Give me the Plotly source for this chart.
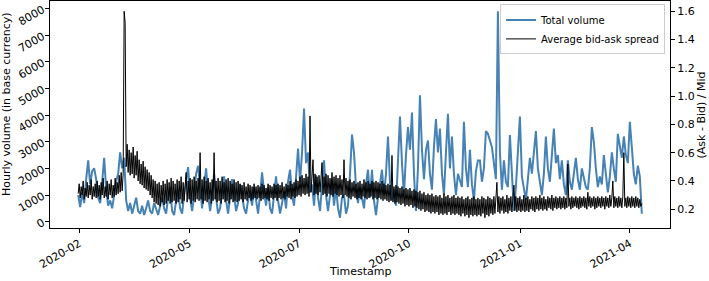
import pandas as pd
import plotly.graph_objects as go

# ---- data ----
start_date = "2020-02-03"
volume_freq = "38h"
spread_freq = "19h"

total_volume = [
    1000, 550, 1100, 700, 1600, 2300, 1400, 1900, 2000, 1600,
    900, 700, 1500, 2400, 1200, 600, 800, 500, 1000, 1500,
    1800, 2600, 2000, 2400, 800, 400, 700, 300, 600, 900,
    400, 300, 600, 250, 500, 800, 400, 300, 700, 500,
    250, 600, 900, 500, 300, 900, 1300, 400, 250, 800,
    1200, 500, 300, 1000, 1600, 2050, 900, 400, 1000, 1800,
    2100, 1200, 500, 1300, 2000, 1000, 400, 900, 1800, 900,
    300, 500, 1100, 1700, 800, 300, 900, 1600, 1000, 400,
    700, 1400, 1000, 500, 300, 800, 1100, 600, 1300, 700,
    300, 1000, 1850, 1100, 600, 1300, 500, 300, 900, 1700,
    800, 300, 700, 1100, 500, 1500, 1950, 1000, 600, 1800,
    2750, 1500, 2600, 4250, 2200, 2600, 1100, 1400, 600, 1750,
    900, 400, 1300, 2300, 1000, 400, 1000, 1600, 600, 1300,
    500, 150, 900, 1000, 300, 600, 1800, 3270, 2600, 1300,
    700, 1300, 900, 500, 1400, 1950, 900, 1950, 800, 250,
    900, 1500, 1950, 1000, 1800, 3200, 1500, 800, 1200, 600,
    2400, 3950, 2200, 1000, 2500, 3550, 2700, 4100, 1800, 400,
    2000, 4750, 2700, 1600, 2700, 3050, 1800, 1200, 2800, 3850,
    2600, 3500, 1800, 1000, 2600, 4050, 2000, 3200, 1800, 1000,
    1800, 1500, 1300, 3750, 2000, 1300, 2700, 1400, 800, 1900,
    2300, 2300, 1500, 2000, 3400, 3300, 3050, 2800, 2200, 1600,
    7900, 2600, 1200, 2300, 1500, 1300, 3250, 1600, 400, 1300,
    2700, 3950, 1700, 1200, 800, 1600, 2400, 1800, 2700, 3400,
    2000, 1400, 1000, 1800, 3200, 2000, 1500, 2500, 3500, 2200,
    2500, 1600, 2300, 1400, 1000, 2300, 1500, 1200, 1800, 2400,
    1600, 1200, 2000, 1700, 1300, 1200, 2000, 3550, 3000, 2000,
    1300, 1700, 1400, 2500, 1700, 1100, 1700, 2600, 2000, 1500,
    3300, 2800, 2400, 3200, 2500, 2200, 3750, 2800, 1800, 1400,
    2100, 1700, 300,
]

avg_spread = [
    0.31, 0.38, 0.28, 0.36, 0.30, 0.40, 0.27, 0.35, 0.29, 0.39, 0.28, 0.37, 0.30, 0.41, 0.27, 0.36, 0.29, 0.38, 0.28, 0.40,
    0.29, 0.37, 0.27, 0.39, 0.30, 0.42, 0.28, 0.36, 0.29, 0.40, 0.27, 0.38, 0.30, 0.41, 0.28, 0.37, 0.29, 0.42, 0.30, 0.39,
    0.31, 0.44, 0.32, 0.46, 0.33, 0.45, 1.60, 1.52, 0.50, 0.66, 0.46, 0.62, 0.44, 0.60, 0.45, 0.64, 0.42, 0.58, 0.44, 0.61,
    0.40, 0.55, 0.38, 0.52, 0.37, 0.54, 0.35, 0.50, 0.34, 0.48, 0.33, 0.46, 0.30, 0.44, 0.28, 0.41, 0.25, 0.40, 0.24, 0.38,
    0.23, 0.39, 0.22, 0.37, 0.25, 0.40, 0.23, 0.38, 0.24, 0.41, 0.26, 0.39, 0.24, 0.42, 0.25, 0.40, 0.26, 0.38, 0.24, 0.41,
    0.25, 0.40, 0.27, 0.43, 0.24, 0.39, 0.26, 0.41, 0.46, 0.25, 0.40, 0.27, 0.42, 0.24, 0.41, 0.26, 0.43, 0.25, 0.40, 0.27,
    0.42, 0.26, 0.60, 0.27, 0.41, 0.24, 0.43, 0.26, 0.40, 0.25, 0.42, 0.27, 0.39, 0.24, 0.41, 0.26, 0.60, 0.27, 0.40, 0.25,
    0.42, 0.26, 0.40, 0.24, 0.43, 0.27, 0.39, 0.25, 0.41, 0.26, 0.42, 0.24, 0.40, 0.27, 0.38, 0.25, 0.41, 0.26, 0.39, 0.25,
    0.40, 0.26, 0.38, 0.27, 0.37, 0.25, 0.39, 0.27, 0.36, 0.26, 0.38, 0.28, 0.37, 0.26, 0.36, 0.27, 0.38, 0.28, 0.36, 0.27,
    0.37, 0.28, 0.36, 0.26, 0.38, 0.27, 0.37, 0.28, 0.35, 0.27, 0.38, 0.26, 0.37, 0.28, 0.36, 0.27, 0.38, 0.28, 0.37, 0.26,
    0.38, 0.28, 0.37, 0.27, 0.39, 0.28, 0.36, 0.27, 0.38, 0.29, 0.37, 0.28, 0.40, 0.27, 0.38, 0.29, 0.39, 0.28, 0.41, 0.29,
    0.40, 0.30, 0.43, 0.29, 0.44, 0.31, 0.42, 0.30, 0.45, 0.31, 0.43, 0.29, 0.86, 0.32, 0.44, 0.55, 0.30, 0.45, 0.31, 0.43,
    0.30, 0.44, 0.32, 0.46, 0.53, 0.30, 0.43, 0.31, 0.45, 0.29, 0.44, 0.31, 0.42, 0.30, 0.46, 0.29, 0.43, 0.31, 0.44, 0.30,
    0.42, 0.29, 0.44, 0.30, 0.41, 0.28, 0.55, 0.30, 0.42, 0.29, 0.40, 0.28, 0.41, 0.27, 0.39, 0.29, 0.40, 0.28, 0.38, 0.27,
    0.39, 0.28, 0.40, 0.27, 0.38, 0.29, 0.41, 0.28, 0.39, 0.27, 0.40, 0.28, 0.38, 0.29, 0.40, 0.27, 0.39, 0.28, 0.40, 0.27,
    0.39, 0.28, 0.38, 0.27, 0.40, 0.26, 0.38, 0.27, 0.37, 0.26, 0.38, 0.25, 0.37, 0.26, 0.58, 0.25, 0.36, 0.24, 0.37, 0.25,
    0.36, 0.24, 0.35, 0.23, 0.36, 0.24, 0.34, 0.22, 0.35, 0.23, 0.34, 0.22, 0.35, 0.23, 0.33, 0.21, 0.34, 0.22, 0.33, 0.21,
    0.32, 0.20, 0.33, 0.19, 0.31, 0.20, 0.32, 0.18, 0.30, 0.19, 0.31, 0.18, 0.30, 0.17, 0.31, 0.18, 0.29, 0.17, 0.30, 0.18,
    0.29, 0.16, 0.30, 0.17, 0.28, 0.16, 0.31, 0.17, 0.29, 0.16, 0.30, 0.18, 0.28, 0.16, 0.29, 0.17, 0.30, 0.16, 0.28, 0.17,
    0.29, 0.16, 0.28, 0.15, 0.29, 0.17, 0.27, 0.15, 0.28, 0.16, 0.29, 0.14, 0.27, 0.16, 0.28, 0.15, 0.29, 0.16, 0.27, 0.15,
    0.28, 0.16, 0.27, 0.15, 0.29, 0.17, 0.28, 0.14, 0.27, 0.16, 0.29, 0.15, 0.28, 0.17, 0.27, 0.16, 0.29, 0.17, 0.28, 0.39,
    0.18, 0.29, 0.17, 0.28, 0.19, 0.29, 0.17, 0.27, 0.18, 0.30, 0.17, 0.28, 0.19, 0.29, 0.18, 0.28, 0.37, 0.19, 0.29, 0.18,
    0.28, 0.19, 0.29, 0.18, 0.27, 0.19, 0.30, 0.18, 0.28, 0.19, 0.29, 0.18, 0.27, 0.20, 0.29, 0.19, 0.28, 0.18, 0.29, 0.20,
    0.28, 0.19, 0.30, 0.20, 0.28, 0.19, 0.29, 0.20, 0.27, 0.19, 0.29, 0.21, 0.28, 0.20, 0.30, 0.19, 0.28, 0.21, 0.29, 0.20,
    0.28, 0.21, 0.29, 0.20, 0.28, 0.21, 0.29, 0.20, 0.28, 0.21, 0.52, 0.22, 0.28, 0.20, 0.29, 0.21, 0.28, 0.22, 0.29, 0.21,
    0.28, 0.20, 0.29, 0.21, 0.28, 0.22, 0.29, 0.21, 0.28, 0.20, 0.32, 0.22, 0.29, 0.21, 0.28, 0.22, 0.29, 0.20, 0.28, 0.21,
    0.29, 0.22, 0.28, 0.21, 0.29, 0.22, 0.28, 0.20, 0.29, 0.22, 0.28, 0.21, 0.30, 0.22, 0.28, 0.40, 0.21, 0.29, 0.22, 0.28,
    0.21, 0.29, 0.22, 0.28, 0.21, 0.29, 0.60, 0.22, 0.28, 0.21, 0.29, 0.22, 0.28, 0.21, 0.29, 0.22, 0.28, 0.21, 0.29, 0.22,
    0.28, 0.21, 0.27, 0.22, 0.24,
]

tick_dates = ["2020-02-04", "2020-05-01", "2020-07-27",
              "2020-10-22", "2021-01-18", "2021-04-15"]
tick_labels = ["2020-02", "2020-05", "2020-07", "2020-10", "2021-01", "2021-04"]

series_names = ["Total volume", "Average bid-ask spread"]
x_title = "Timestamp"
y_title = "Hourly volume (in base currency)"
y2_title = "(Ask - Bid) / Mid"

# ---- figure ----
vol_time = pd.date_range(start_date, periods=len(total_volume), freq=volume_freq)
spr_time = pd.date_range(start_date, periods=len(avg_spread), freq=spread_freq)


def padded(lo, hi, frac=0.05):
    span = hi - lo
    return [lo - frac * span, hi + frac * span]


t0 = min(vol_time[0], spr_time[0])
t1 = max(vol_time[-1], spr_time[-1])
tspan = t1 - t0
x_range = [t0 - tspan * 0.05, t1 + tspan * 0.05]

FONT = "DejaVu Sans"

fig = go.Figure()
fig.add_trace(go.Scatter(
    x=vol_time, y=total_volume, name=series_names[0], mode="lines",
    line=dict(color="#4682b4", width=2), yaxis="y",
))
fig.add_trace(go.Scatter(
    x=spr_time, y=avg_spread, name=series_names[1], mode="lines",
    line=dict(color="black", width=1), yaxis="y2",
))

axis_common = dict(
    showline=True, linecolor="black", linewidth=1, ticks="outside",
    ticklen=4, tickcolor="black", showgrid=False, zeroline=False,
    automargin=False,
    tickfont=dict(family=FONT, size=11, color="black"),
)

fig.update_layout(
    width=709, height=281,
    margin=dict(l=50, r=39, t=1, b=53, autoexpand=False),
    paper_bgcolor="white", plot_bgcolor="white",
    font=dict(family=FONT, size=11, color="black"),
    showlegend=True,
    legend=dict(
        x=0.992, y=0.985, xanchor="right", yanchor="top",
        bgcolor="rgba(255,255,255,0.8)", bordercolor="#cccccc", borderwidth=1,
        font=dict(family=FONT, size=10), itemwidth=30,
    ),
    xaxis=dict(
        **axis_common, mirror=True, type="date", range=x_range,
        tickvals=tick_dates, ticktext=tick_labels, tickangle=-30,
    ),
    yaxis=dict(
        **axis_common, range=padded(min(total_volume), max(total_volume)),
        tick0=0, dtick=1000, tickangle=-30,
    ),
    yaxis2=dict(
        **axis_common, overlaying="y", side="right", anchor="x",
        range=padded(min(avg_spread), max(avg_spread)),
        tick0=0, dtick=0.2, tickformat=".1f",
    ),
    annotations=[
        dict(text=x_title, xref="paper", yref="paper", x=0.5, y=-0.19,
             showarrow=False, xanchor="center", yanchor="middle",
             font=dict(family=FONT, size=11)),
        dict(text=y_title, xref="paper", yref="paper", x=-0.071, y=0.546,
             showarrow=False, textangle=-90, xanchor="center", yanchor="middle",
             font=dict(family=FONT, size=11)),
        dict(text=y2_title, xref="paper", yref="paper", x=1.0516, y=0.5,
             showarrow=False, textangle=-90, xanchor="center", yanchor="middle",
             font=dict(family=FONT, size=11)),
    ],
)

fig.write_html(
    "out.html",
    config={"displayModeBar": False},
    post_script="document.body.style.margin='0';document.body.style.overflow='hidden';",
)
